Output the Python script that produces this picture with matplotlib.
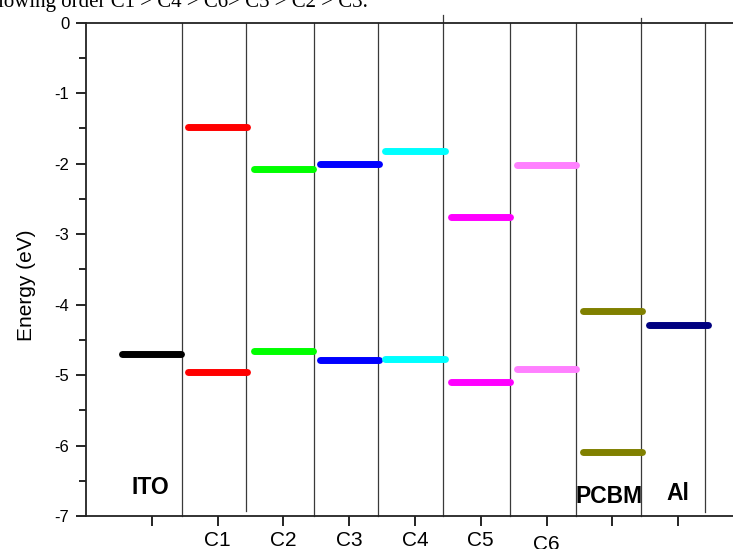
import numpy as np
import matplotlib
matplotlib.use("Agg")
import matplotlib.pyplot as plt
from matplotlib.ticker import MultipleLocator
from matplotlib.transforms import ScaledTranslation

# energy levels (eV), one column per material
materials = ["ITO", "C1", "C2", "C3", "C4", "C5", "C6", "PCBM", "Al"]
lumo = [None, -1.48, -2.08, -2.01, -1.82, -2.76, -2.02, -4.09, None]
homo = [-4.70, -4.96, -4.66, -4.79, -4.77, -5.10, -4.92, -6.09, -4.29]
colors = ["#000000", "#ff0000", "#00ff00", "#0000ff", "#00ffff",
          "#ff00ff", "#ff80ff", "#808000", "#000080"]

tick_pos = [1, 2, 3, 4, 5, 6, 7, 8, 9]
tick_labels = ["", "C1", "C2", "C3", "C4", "C5", "C6", "", ""]

# hand drawn separators between the columns
sep_x = [1.46, 2.43, 3.46, 4.44, 5.43, 6.44, 7.45, 8.43, 9.41]
sep_top = [0, 0, 0, 0, 0.11, 0, 0, 0.07, 0]
sep_bottom = [-7, -6.93, -7, -7, -7, -7, -7, -7, -6.95]

# names written inside the plot
names = ["ITO", "PCBM", "Al"]
name_x = [0.98, 7.95, 9.0]
name_y = [-6.69, -6.81, -6.77]

plt.rcParams["font.family"] = ["Liberation Sans", "DejaVu Sans"]

fig = plt.figure(figsize=(7.33, 5.49), dpi=100)
ax = fig.add_axes([86 / 733, 1 - 516 / 549, 1 - 86 / 733, (516 - 22.7) / 549])

for x, top, bot in zip(sep_x, sep_top, sep_bottom):
    ax.plot([x, x], [bot, top], color="#3a3a3a", lw=0.9, clip_on=False, zorder=1)

half = 0.45
for i, pos in enumerate(tick_pos):
    for level in (lumo[i], homo[i]):
        if level is None:
            continue
        ax.plot([pos - half, pos + half], [level, level], color=colors[i],
                lw=5, solid_capstyle="round", zorder=3)

for n, x, y in zip(names, name_x, name_y):
    ax.text(x, y, n, ha="center", va="baseline", fontsize=16.5, fontweight="bold")

ax.set_xlim(0, (733 - 86) / 65.8)
ax.set_ylim(-7, 0)
ax.spines["right"].set_visible(False)
for s in ("left", "bottom", "top"):
    ax.spines[s].set_linewidth(1.3)
    ax.spines[s].set_color("#222222")

ax.set_xticks(tick_pos)
ax.set_xticklabels(tick_labels, fontsize=15)
ax.yaxis.set_major_locator(MultipleLocator(1))
ax.yaxis.set_minor_locator(MultipleLocator(0.5))
ax.set_yticks(np.arange(-7, 1, 1))
ax.set_yticklabels([str(v) for v in range(-7, 1)], fontsize=12)
ax.tick_params(axis="x", direction="out", length=7, width=1.2, pad=4)
ax.tick_params(axis="y", which="major", direction="out", length=7, width=1.2, pad=5)
ax.tick_params(axis="y", which="minor", direction="out", length=5, width=1.2)

# C6 label sits a little lower in the original
c6 = ax.get_xticklabels()[6]
c6.set_transform(c6.get_transform() + ScaledTranslation(0, -3 / 72, fig.dpi_scale_trans))

ax.set_ylabel("Energy (eV)", fontsize=15)
ax.yaxis.set_label_coords(-0.077, 0.468)

# clipped line of the surrounding document text
fig.text(368 / 733, 1 - 7 / 549, "following order C1 > C4 > C6> C5 > C2 > C3.",
         ha="right", va="baseline", fontsize=15, family="Liberation Serif")

fig.savefig("out.png", dpi=100)
